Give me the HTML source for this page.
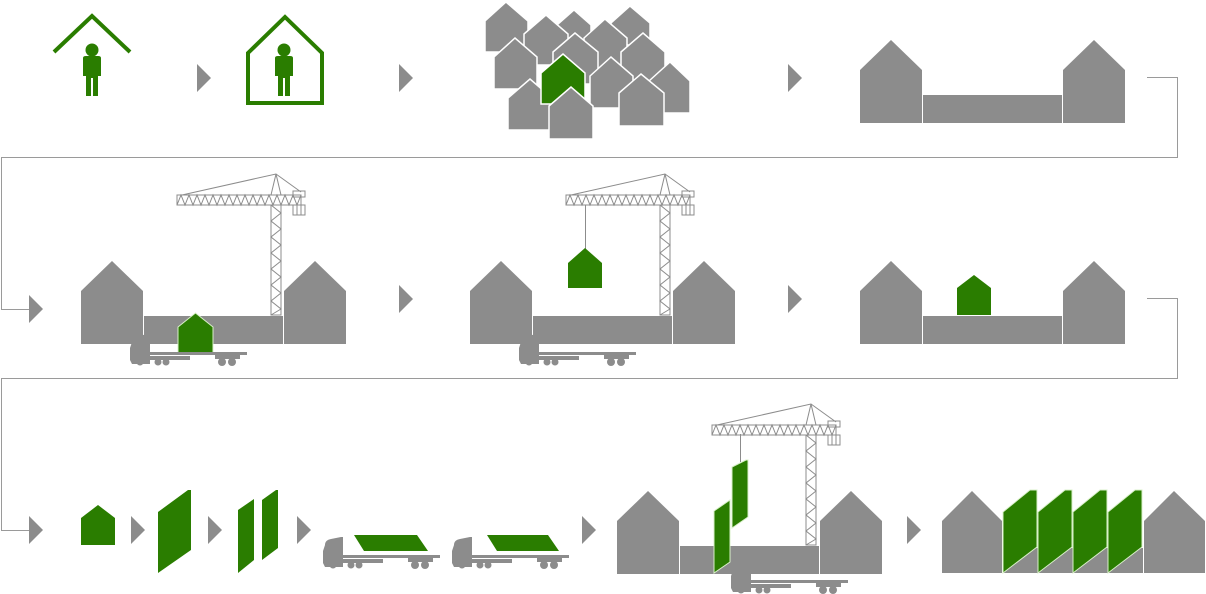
<!DOCTYPE html>
<html><head><meta charset="utf-8"><style>
html,body{margin:0;padding:0;background:#fff;}
svg{display:block;}
</style></head><body>
<svg width="1206" height="594" viewBox="0 0 1206 594" xmlns="http://www.w3.org/2000/svg">
<defs>
<g id="crane" fill="none" stroke="#8c8c8c" stroke-width="1">
  <rect x="0" y="21" width="124" height="10"/>
  <polyline points="0,31 4,21 8,31 12,21 16,31 20,21 24,31 28,21 32,31 36,21 40,31 44,21 48,31 52,21 56,31 60,21 64,31 68,21 72,31 76,21 80,31 84,21 88,31 92,21 96,31 100,21 104,31 108,21 112,31 116,21 120,31 124,21"/>
  <rect x="94" y="31" width="10" height="110"/>
  <polyline points="94,31 104,39 94,47 104,55 94,63 104,71 94,79 104,87 94,95 104,103 94,111 104,119 94,127 104,135 94,141"/>
  <polyline points="5,21 99,0 124,18"/>
  <line x1="99" y1="0" x2="94" y2="21"/><line x1="99" y1="0" x2="104" y2="21"/>
  <rect x="116" y="17" width="12" height="6"/>
  <rect x="116" y="31" width="12" height="10"/>
  <line x1="120" y1="31" x2="120" y2="41"/><line x1="124" y1="31" x2="124" y2="41"/>
</g>
<g id="truck" fill="#8c8c8c">
  <path d="M2,8 Q2,3 8,2 L18,0 L20,0 L20,30 L2,30 L0,26 L0,14 Z"/>
  <rect x="20" y="18" width="97" height="3"/>
  <rect x="20" y="22" width="40" height="4"/>
  <rect x="85" y="21" width="25" height="4"/>
  <circle cx="10" cy="28" r="3.5"/><circle cx="28" cy="28" r="3.5"/><circle cx="36" cy="28" r="3.5"/>
  <circle cx="92" cy="28" r="4"/><circle cx="102" cy="28" r="4"/>
</g>
<g id="street" fill="#8c8c8c">
  <polygon points="0,30 31,0 62,30 62,83 0,83"/>
  <rect x="63" y="55" width="139" height="28"/>
  <polygon points="203,30 234,0 265,30 265,83 203,83"/>
</g>
</defs>

<!-- connectors -->
<g fill="none" stroke="#9a9a9a" stroke-width="1">
  <polyline points="1147,77.5 1177.5,77.5 1177.5,157.5 1.5,157.5 1.5,309.5 29,309.5"/>
  <polyline points="1147,298.5 1177.5,298.5 1177.5,378.5 1.5,378.5 1.5,530.5 29,530.5"/>
</g>

<!-- arrows -->
<g fill="#8c8c8c">
  <polygon points="197,64 211,78 197,92"/>
  <polygon points="399,64 413,78 399,92"/>
  <polygon points="788,64 802,78 788,92"/>
  <polygon points="29,295 43,309 29,323"/>
  <polygon points="399,285 413,299 399,313"/>
  <polygon points="788,285 802,299 788,313"/>
  <polygon points="29,516 43,530 29,544"/>
  <polygon points="131,516 145,530 131,544"/>
  <polygon points="208,516 222,530 208,544"/>
  <polygon points="297,516 311,530 297,544"/>
  <polygon points="582,516 596,530 582,544"/>
  <polygon points="907,516 921,530 907,544"/>
</g>

<!-- row1 -->
<polyline points="54,52 92,16 130,52" fill="none" stroke="#2a7d00" stroke-width="4"/>
<g fill="#2a7d00">
  <circle cx="92" cy="50" r="6.5"/>
  <path d="M83,58 Q83,56 86,56 L98,56 Q101,56 101,58 L101,76 L98,76 L98,96 L93,96 L93,78 L91,78 L91,96 L86,96 L86,76 L83,76 Z"/>
  <circle cx="284" cy="50" r="6.5"/>
  <path d="M275,58 Q275,56 278,56 L290,56 Q293,56 293,58 L293,76 L290,76 L290,96 L285,96 L285,78 L283,78 L283,96 L278,96 L278,76 L275,76 Z"/>
</g>
<polygon points="248,53 285,17 322,53 322,103 248,103" fill="none" stroke="#2a7d00" stroke-width="4"/>

<!-- cluster -->
<g fill="#8c8c8c" stroke="#fff" stroke-width="1.5">
  <polygon points="485,21 506,2 528,21 528,52 485,52"/>
  <polygon points="611,23 630,6 650,23 650,45 611,45"/>
  <polygon points="557,25 574,10 591,25 591,45 557,45"/>
  <polygon points="524,34 546,15 568,34 568,65 524,65"/>
  <polygon points="584,38 605,19 627,38 627,70 584,70"/>
  <polygon points="494,57 515,38 537,57 537,89 494,89"/>
  <polygon points="553,52 575,33 598,52 598,84 553,84"/>
  <polygon points="621,52 643,33 665,52 665,84 621,84"/>
  <polygon points="649,81 670,62 690,81 690,113 649,113"/>
  <polygon points="590,76 611,57 633,76 633,108 590,108"/>
  <polygon points="508,98 530,79 552,98 552,130 508,130"/>
  <polygon points="541,73 563,54 585,73 585,104 541,104" fill="#2a7d00"/>
  <polygon points="619,93 641,74 664,93 664,126 619,126"/>
  <polygon points="549,106 571,87 593,106 593,139 549,139"/>
</g>

<use href="#street" x="860" y="40"/>

<!-- row2 -->
<use href="#street" x="81" y="261"/>
<use href="#crane" x="177" y="174"/>
<polygon points="178,327 195.5,313 213,327 213,353 178,353" fill="#2a7d00" stroke="#d8f0c8" stroke-width="1"/>
<use href="#truck" x="130" y="334"/>

<use href="#street" x="470" y="261"/>
<use href="#crane" x="566" y="174"/>
<line x1="585.5" y1="205" x2="585.5" y2="250" stroke="#8c8c8c"/>
<polygon points="568,263 585,248 602,263 602,288 568,288" fill="#2a7d00"/>
<use href="#truck" x="519" y="334"/>

<use href="#street" x="860" y="261"/>
<polygon points="957,288 974,275 991,288 991,315 957,315" fill="#2a7d00"/>

<!-- row3 -->
<g fill="#2a7d00">
  <polygon points="81,518 98,505 115,518 115,545 81,545"/>
  <polygon points="158,512 188,490 191,490 191,550 158,573"/>
  <polygon points="238,510 254,499 254,560 238,573"/>
  <polygon points="262,500 276,490 278,490 278,548 262,560"/>
  <polygon points="354,535 417,535 428,551 364,551"/>
  <polygon points="487,535 548,535 559,551 497,551"/>
</g>
<use href="#truck" x="323" y="537"/>
<use href="#truck" x="452" y="537"/>

<use href="#street" x="617" y="491"/>
<use href="#crane" x="712" y="404"/>
<line x1="740.5" y1="434" x2="740.5" y2="462" stroke="#8c8c8c"/>
<g fill="#2a7d00" stroke="#d8f0c8" stroke-width="1">
  <polygon points="732,467 746,460 748,460 748,517 732,528"/>
  <polygon points="714,511 730,500 730,562 714,573"/>
</g>
<use href="#truck" x="731" y="562"/>

<!-- final -->
<g fill="#8c8c8c">
  <polygon points="942,521 972,491 1002,521 1002,573 942,573"/>
  <polygon points="1144,521 1174,491 1205,521 1205,573 1144,573"/>
  <rect x="1003" y="548" width="140" height="25"/>
</g>
<g fill="#2a7d00" stroke="#d8f0c8" stroke-width="1">
  <polygon points="1003,512 1030,490 1037,490 1037,547 1003,573"/>
  <polygon points="1038,512 1065,490 1072,490 1072,547 1038,573"/>
  <polygon points="1073,512 1100,490 1107,490 1107,547 1073,573"/>
  <polygon points="1108,512 1135,490 1142,490 1142,547 1108,573"/>
</g>
<g fill="#8c8c8c">
  <polygon points="1004,573 1037,548 1037,573"/>
  <polygon points="1039,573 1072,548 1072,573"/>
  <polygon points="1074,573 1107,548 1107,573"/>
  <polygon points="1109,573 1142,548 1142,573"/>
</g>
</svg>
</body></html>
